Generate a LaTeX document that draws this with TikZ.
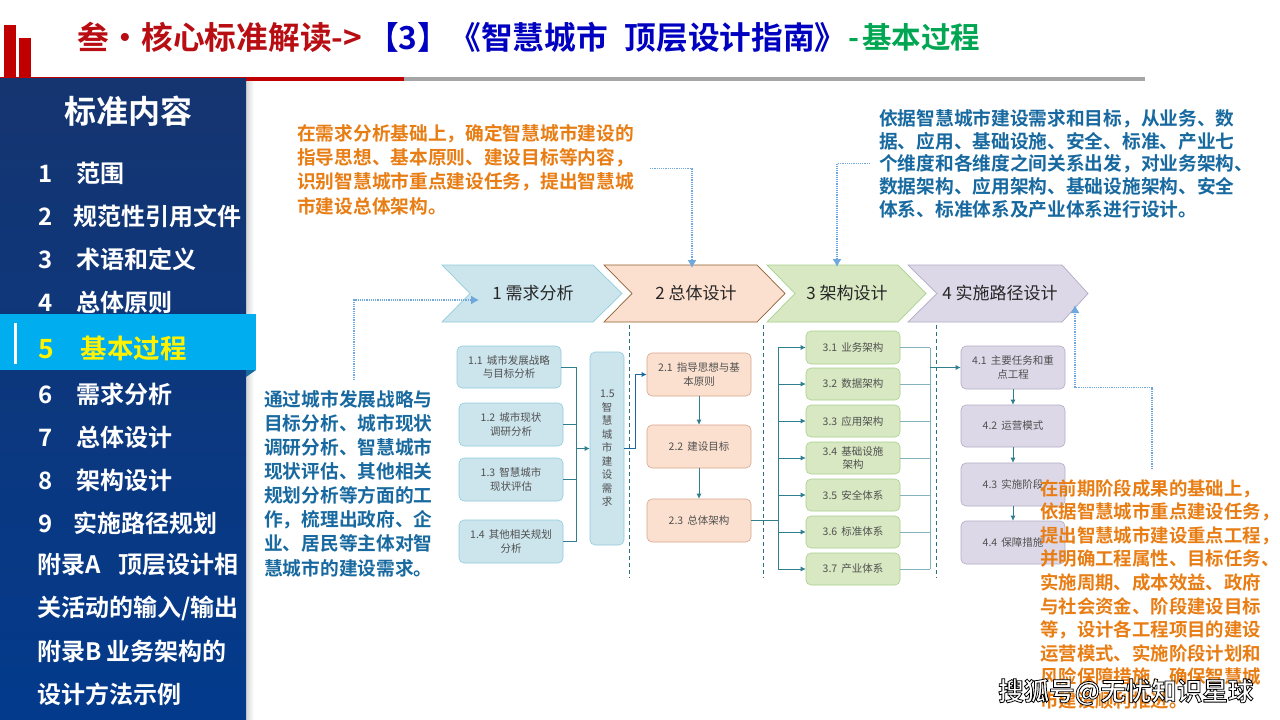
\documentclass[tikz,border=0pt]{standalone}
\usepackage{fontspec}
\usetikzlibrary{arrows.meta,calc}
\setmainfont{Noto Sans CJK SC}[BoldFont={Noto Sans CJK SC Bold}]
\definecolor{tred}{HTML}{B80D12}
\definecolor{tblue}{HTML}{0000C0}
\definecolor{tgreen}{HTML}{00A651}
\definecolor{barred}{HTML}{C00000}
\definecolor{bargray}{HTML}{A6A6A6}
\definecolor{orangetx}{HTML}{E87D14}
\definecolor{bluetx}{HTML}{17699F}
\definecolor{cyanhi}{HTML}{00AEEF}
\definecolor{dotblue}{HTML}{6FA8DC}
\definecolor{teal}{HTML}{2F7F8F}
\definecolor{boxtx}{HTML}{505050}
\definecolor{fa}{HTML}{CCE4EC}
\definecolor{fb}{HTML}{FBE0CF}
\definecolor{fc}{HTML}{D8E8C2}
\definecolor{fd}{HTML}{DCD8E7}
\definecolor{da}{HTML}{92CDDC}
\definecolor{db}{HTML}{D9A78C}
\definecolor{dc}{HTML}{A9D18E}
\definecolor{dd}{HTML}{B2ABC4}
\tikzset{
  x=1pt,y=-1pt,
  side/.style={anchor=west,text=white,font=\fontsize{24}{26}\selectfont\bfseries,inner sep=0pt},
  ttl/.style={anchor=west,inner sep=0pt,font=\fontsize{31.7}{34}\selectfont\bfseries},
  note/.style={anchor=north west,align=left,inner sep=0pt,font=\fontsize{18.7}{#1}\selectfont\bfseries},
  chev/.style={line width=0.7pt},
  chevlabel/.style={font=\fontsize{17}{20}\selectfont,text=black!85,inner sep=0pt},
  bx/.style={rounded corners=5pt,line width=0.6pt,inner sep=1pt,align=center,text=boxtx,font=\fontsize{10.5}{13.5}\selectfont},
  bxa/.style={bx,draw=da,fill=fa},
  bxb/.style={bx,draw=db,fill=fb},
  bxc/.style={bx,draw=dc,fill=fc},
  bxd/.style={bx,draw=dd,fill=fd},
  conn/.style={teal,line width=0.7pt},
  connl/.style={teal!60,line width=0.7pt},
  arr/.style={conn,-{Latex[length=5pt,width=5pt]}},
  sep/.style={teal!90!black,line width=0.6pt,dash pattern=on 4pt off 3pt},
  dotarr/.style={dotblue,line width=1.1pt,dash pattern=on 1.2pt off 1pt,-{Latex[length=8pt,width=9pt]}},
}
\newcommand{\bxnode}[7]{\node[#6,minimum width={(#4-#2)*1pt},minimum height={(#5-#3)*1pt},text width={(#4-#2-6)*1pt}] (#1) at ({(#2+#4)/2},{(#3+#5)/2}) {#7};}
\begin{document}
\begin{tikzpicture}
\useasboundingbox (0,0) rectangle (1280,720);
\fill[white] (0,0) rectangle (1280,720);
% top decoration
\fill[barred] (4,25) rectangle (16,78);
\fill[barred] (19,38) rectangle (31,78);
\shade[left color=black!16,right color=white] (246,81) rectangle (254,720);
\fill[bargray] (404,77) rectangle (1145,81);
\fill[barred] (0,77) rectangle (404,81);
% title
\node[ttl,text=tred] (t1) at (77,37) {叁\hspace{0.5pt}·\hspace{0.5pt}核心标准解读->};
\node[ttl,text=tblue] (t2) at (367,37) {【3】《智慧城市\hspace{17pt}顶层设计指南》};
\node[ttl,text=tgreen,font=\fontsize{29.5}{34}\selectfont\bfseries] (t3) at (848,37) {-\hspace{3pt}基本过程};
% sidebar
\shade[top color={rgb,255:red,21;green,53;blue,112},bottom color={rgb,255:red,3;green,58;blue,140}] (0,78) rectangle (246,720);
\node[anchor=center,inner sep=0pt,text=white,font=\fontsize{32}{34}\selectfont\bfseries] (hd) at (128,111) {标准内容};
\node[side] (s1) at (38,173) {1\hspace{24pt}范围};
\node[side] (s2) at (38,216) {2\hspace{21pt}规范性引用文件};
\node[side] (s3) at (38,259) {3\hspace{24pt}术语和定义};
\node[side] (s4) at (38,302) {4\hspace{24pt}总体原则};
\fill[cyanhi] (0,314) rectangle (256,370);
\fill[bluetx] (246,370) -- (256,370) -- (246,377) -- cycle;
\fill[white] (14,323) rectangle (17,364);
\node[side,text=yellow,font=\fontsize{26.5}{30}\selectfont\bfseries] (s5) at (38,348) {5\hspace{27pt}基本过程};
\node[side] (s6) at (38,394) {6\hspace{24pt}需求分析};
\node[side] (s7) at (38,437) {7\hspace{24pt}总体设计};
\node[side] (s8) at (38,480) {8\hspace{24pt}架构设计};
\node[side] (s9) at (38,523) {9\hspace{21pt}实施路径规划};
\node[side] (s10) at (37,565) {附录A\hspace{18pt}顶层设计相};
\node[side] (s11) at (37,608) {关活动的输入/输出};
\node[side] (s12) at (37,651) {附录B 业务架构的};
\node[side] (s13) at (37,694) {设计方法示例};
% chevrons
\path[chev,fill=fa,draw=da] (442,265) -- (593,265) -- (622,293.5) -- (593,322) -- (442,322) -- (470,293.5) -- cycle;
\path[chev,fill=fb,draw=brown!75!black] (604,265) -- (757,265) -- (785,293.5) -- (757,322) -- (604,322) -- (632,293.5) -- cycle;
\path[chev,fill=fc,draw=dc] (767,265) -- (898,265) -- (926,293.5) -- (898,322) -- (767,322) -- (795,293.5) -- cycle;
\path[chev,fill=fd,draw=dd] (908,265) -- (1062,265) -- (1088,293.5) -- (1062,322) -- (908,322) -- (937,293.5) -- cycle;
\node[chevlabel] (c1) at (533,293) {1 需求分析};
\node[chevlabel] (c2) at (696,293) {2 总体设计};
\node[chevlabel] (c3) at (847,293) {3 架构设计};
\node[chevlabel] (c4) at (1000,293) {4 实施路径设计};
% separators
\coordinate (d1a) at (629,325); \coordinate (d1b) at (629,578);
\coordinate (d2a) at (763,325); \coordinate (d2b) at (763,578);
\coordinate (d3a) at (936,325); \coordinate (d3b) at (936,578);
\draw[sep] (d1a) -- (d1b);
\draw[sep] (d2a) -- (d2b);
\draw[sep] (d3a) -- (d3b);
% boxes
\bxnode{b11}{457}{346}{561}{388}{bxa}{1.1\hspace{4pt}城市发展战略\\与目标分析}
\bxnode{b12}{459}{403}{563}{446}{bxa}{1.2\hspace{4pt}城市现状\\调研分析}
\bxnode{b13}{459}{458}{563}{501}{bxa}{1.3\hspace{4pt}智慧城市\\现状评估}
\bxnode{b14}{459}{520}{563}{563}{bxa}{1.4\hspace{4pt}其他相关规划\\分析}
\node[bxa,minimum width=34pt,minimum height=193pt,text width=14pt] (b15) at (607,448.5) {1.5\\智\\慧\\城\\市\\建\\设\\需\\求};
\bxnode{b21}{647}{353}{751}{396}{bxb}{2.1\hspace{4pt}指导思想与基\\本原则}
\bxnode{b22}{647}{425}{751}{468}{bxb}{2.2\hspace{4pt}建设目标}
\bxnode{b23}{647}{499}{751}{542}{bxb}{2.3\hspace{4pt}总体架构}
\bxnode{b31}{806}{331}{900}{364}{bxc}{3.1\hspace{4pt}业务架构}
\bxnode{b32}{806}{368}{900}{400}{bxc}{3.2\hspace{4pt}数据架构}
\bxnode{b33}{806}{405}{900}{437}{bxc}{3.3\hspace{4pt}应用架构}
\bxnode{b34}{806}{442}{900}{474}{bxc}{3.4\hspace{4pt}基础设施\\架构}
\bxnode{b35}{806}{479}{900}{511}{bxc}{3.5\hspace{4pt}安全体系}
\bxnode{b36}{806}{516}{900}{548}{bxc}{3.6\hspace{4pt}标准体系}
\bxnode{b37}{806}{553}{900}{585}{bxc}{3.7\hspace{4pt}产业体系}
\bxnode{b41}{961}{346}{1065}{389}{bxd}{4.1\hspace{4pt}主要任务和重\\点工程}
\bxnode{b42}{961}{405}{1065}{447}{bxd}{4.2\hspace{4pt}运营模式}
\bxnode{b43}{961}{463}{1065}{506}{bxd}{4.3\hspace{4pt}实施阶段}
\bxnode{b44}{961}{521}{1065}{564}{bxd}{4.4\hspace{4pt}保障措施}
% connectors group 1
\coordinate (bus1) at (576,448.5);
\draw[conn] (b11.east) -| (bus1);
\draw[conn] (b12.east) -| (bus1);
\draw[conn] (b13.east) -| (bus1);
\draw[conn] (b14.east) -| (bus1);
\draw[arr] (bus1) -- (b15.west);
\coordinate (m15) at (635,448.5);
\draw[bluetx,line width=0.9pt,-{Latex[length=5pt,width=5pt]}] (b15.east) -- (m15) |- (b21.west);
\draw[arr] (b21.south) -- (b22.north);
\draw[arr] (b22.south) -- (b23.north);
% group 3
\coordinate (bus2) at (778,520.5);
\draw[conn] (b23.east) -- (bus2);
\coordinate (bus2t) at (778,347.5);
\coordinate (bus2b) at (778,569);
\draw[conn] (bus2t) -- (bus2b);
\foreach \n in {31,32,33,34,35,36,37}{
  \draw[arr] (bus2 |- b\n.west) -- (b\n.west);
}
\coordinate (bus3) at (930,367.5);
\coordinate (bus3t) at (930,347.5);
\coordinate (bus3b) at (930,569);
\draw[connl] (bus3t) -- (bus3b);
\foreach \n in {31,32,33,34,35,36,37}{
  \draw[connl] (b\n.east) -- (bus3 |- b\n.east);
}
\draw[arr] (bus3) -- (b41.west);
\draw[arr] (b41.south) -- (b42.north);
\draw[arr] (b42.south) -- (b43.north);
\draw[arr] (b43.south) -- (b44.north);
% dotted call-outs
\coordinate (pa0) at (354,380); \coordinate (pa1) at (354,300); \coordinate (pa2) at (479,300);
\draw[dotarr] (pa0) -- (pa1) -- (pa2);
\coordinate (pb0) at (650,168.5); \coordinate (pb1) at (692,168.5); \coordinate (pb2) at (692,268);
\draw[dotarr] (pb0) -- (pb1) -- (pb2);
\coordinate (pc0) at (870,163.5); \coordinate (pc1) at (837,163.5); \coordinate (pc2) at (837,267);
\draw[dotarr] (pc0) -- (pc1) -- (pc2);
\coordinate (pd0) at (1152,469); \coordinate (pd1) at (1152,387.5); \coordinate (pd2) at (1075,387.5); \coordinate (pd3) at (1075,305);
\draw[dotarr] (pd0) -- (pd1) -- (pd2) -- (pd3);
% notes
\node[note=24.3,text=orangetx] (n1) at (297,124) {在需求分析基础上，确定智慧城市建设的\\指导思想、基本原则、建设目标等内容，\\识别智慧城市重点建设任务，提出智慧城\\市建设总体架构。};
\node[note=22.8,text=bluetx] (n2) at (879,109) {依据智慧城市建设需求和目标，从业务、数\\据、应用、基础设施、安全、标准、产业七\\个维度和各维度之间关系出发，对业务架构、\\数据架构、应用架构、基础设施架构、安全\\体系、标准体系及产业体系进行设计。};
\node[note=24.1,text=bluetx] (n3) at (264,390) {通过城市发展战略与\\目标分析、城市现状\\调研分析、智慧城市\\现状评估、其他相关\\规划分析等方面的工\\作，梳理出政府、企\\业、居民等主体对智\\慧城市的建设需求。};
\node[note=23.6,text=orangetx,font=\fontsize{18.4}{23.6}\selectfont\bfseries] (n4) at (1040,479) {在前期阶段成果的基础上，\\依据智慧城市重点建设任务，\\提出智慧城市建设重点工程，\\并明确工程属性、目标任务、\\实施周期、成本效益、政府\\与社会资金、阶段建设目标\\等，设计各工程项目的建设\\运营模式、实施阶段计划和\\风险保障措施，确保智慧城\\市建设顺利推进。};
% watermark
\node[anchor=west,inner sep=0pt,text=white,font=\fontsize{25.5}{28}\selectfont\bfseries] (wm) at (998,692) {\special{pdf:code 2 Tr 0.8 w 0 0 0 RG}搜狐号@无忧知识星球\special{pdf:code 0 Tr}};
\end{tikzpicture}
\end{document}
